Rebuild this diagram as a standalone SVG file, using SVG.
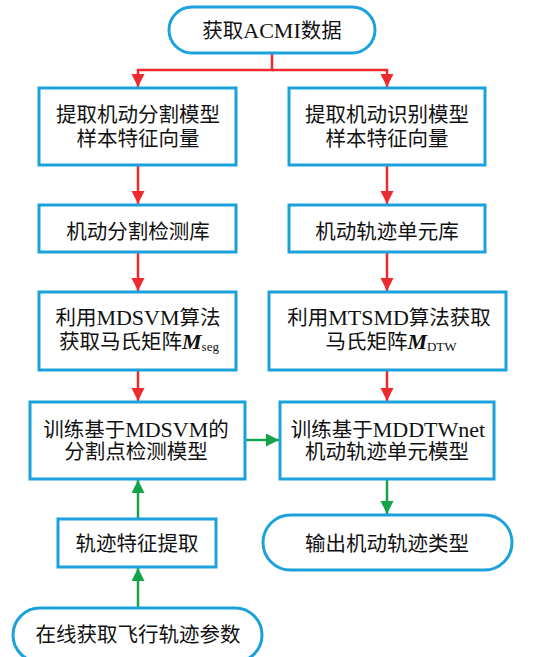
<svg xmlns="http://www.w3.org/2000/svg" width="552" height="657" viewBox="0 0 552 657">
<style>
.box{fill:#fff;stroke:#1BA1DC;stroke-width:3}
.t{font-family:"Liberation Serif","Noto Sans CJK SC",serif;font-size:20.5px;fill:#111;text-anchor:middle}
.lat{font-family:"Liberation Serif",serif;font-size:22px}
.sub{font-family:"Liberation Serif",serif;font-size:13px}
.red{fill:none;stroke:#EE2A2F;stroke-width:2.5}
.grn{fill:none;stroke:#14A24A;stroke-width:2.5}
</style>
<defs>
<marker id="ar" markerUnits="userSpaceOnUse" markerWidth="14" markerHeight="14" refX="13" refY="6.5" orient="auto"><path d="M0,0 L13,6.5 L0,13 Z" fill="#EE2A2F"/></marker>
<marker id="ag" markerUnits="userSpaceOnUse" markerWidth="14" markerHeight="14" refX="13" refY="6.5" orient="auto"><path d="M0,0 L13,6.5 L0,13 Z" fill="#14A24A"/></marker>
</defs>
<rect width="552" height="657" fill="#fff"/>
<g id="connectors">
<path class="red" d="M272,53 V70 H138 V87" marker-end="url(#ar)"/>
<path class="red" d="M272,70 H387 V87" marker-end="url(#ar)"/>
<path class="red" d="M138,165 V204" marker-end="url(#ar)"/>
<path class="red" d="M387,165 V204" marker-end="url(#ar)"/>
<path class="red" d="M138,252 V291" marker-end="url(#ar)"/>
<path class="red" d="M387,252 V291" marker-end="url(#ar)"/>
<path class="red" d="M138,370 V401" marker-end="url(#ar)"/>
<path class="red" d="M387,370 V401" marker-end="url(#ar)"/>
<path class="grn" d="M245,440 H279" marker-end="url(#ag)"/>
<path class="grn" d="M387,479 V514" marker-end="url(#ag)"/>
<path class="grn" d="M138,519 V480" marker-end="url(#ag)"/>
<path class="grn" d="M138,608 V568" marker-end="url(#ag)"/>
</g>
<g id="start">
<rect class="box" x="169" y="7" width="206" height="46" rx="23"/>
<text class="t" x="272" y="38">获取<tspan class="lat">ACMI</tspan>数据</text>
</g>
<g id="seg-feature">
<rect class="box" x="39" y="88" width="197" height="77"/>
<text class="t" x="138" y="122">提取机动分割模型</text>
<text class="t" x="138" y="146">样本特征向量</text>
</g>
<g id="rec-feature">
<rect class="box" x="289" y="88" width="196" height="77"/>
<text class="t" x="387" y="122">提取机动识别模型</text>
<text class="t" x="387" y="146">样本特征向量</text>
</g>
<g id="seg-lib">
<rect class="box" x="39" y="205" width="197" height="47"/>
<text class="t" x="138" y="239">机动分割检测库</text>
</g>
<g id="unit-lib">
<rect class="box" x="289" y="205" width="196" height="47"/>
<text class="t" x="387" y="239">机动轨迹单元库</text>
</g>
<g id="mdsvm">
<rect class="box" x="39" y="292" width="197" height="78"/>
<text class="t" x="138" y="325">利用<tspan class="lat">MDSVM</tspan>算法</text>
<text class="t" x="139" y="349">获取马氏矩阵<tspan class="lat" font-weight="bold" font-style="italic">M</tspan><tspan class="sub" dy="2">seg</tspan></text>
</g>
<g id="mtsmd">
<rect class="box" x="269" y="292" width="237" height="78"/>
<text class="t" x="389" y="325">利用<tspan class="lat">MTSMD</tspan>算法获取</text>
<text class="t" x="391" y="349">马氏矩阵<tspan class="lat" font-weight="bold" font-style="italic">M</tspan><tspan class="sub" dy="2">DTW</tspan></text>
</g>
<g id="train-seg">
<rect class="box" x="30" y="402" width="215" height="77"/>
<text class="t" x="136" y="437">训练基于<tspan class="lat">MDSVM</tspan>的</text>
<text class="t" x="136" y="459">分割点检测模型</text>
</g>
<g id="train-unit">
<rect class="box" x="280" y="402" width="214" height="77"/>
<text class="t" x="388" y="437">训练基于<tspan class="lat">MDDTWnet</tspan></text>
<text class="t" x="387" y="459">机动轨迹单元模型</text>
</g>
<g id="traj-feature">
<rect class="box" x="58" y="519" width="158" height="48"/>
<text class="t" x="137" y="551">轨迹特征提取</text>
</g>
<g id="output">
<rect class="box" x="263" y="515" width="249" height="55" rx="27.5"/>
<text class="t" x="387" y="551">输出机动轨迹类型</text>
</g>
<g id="online">
<rect class="box" x="13" y="608" width="249" height="54" rx="27"/>
<text class="t" x="138" y="642">在线获取飞行轨迹参数</text>
</g>
</svg>
